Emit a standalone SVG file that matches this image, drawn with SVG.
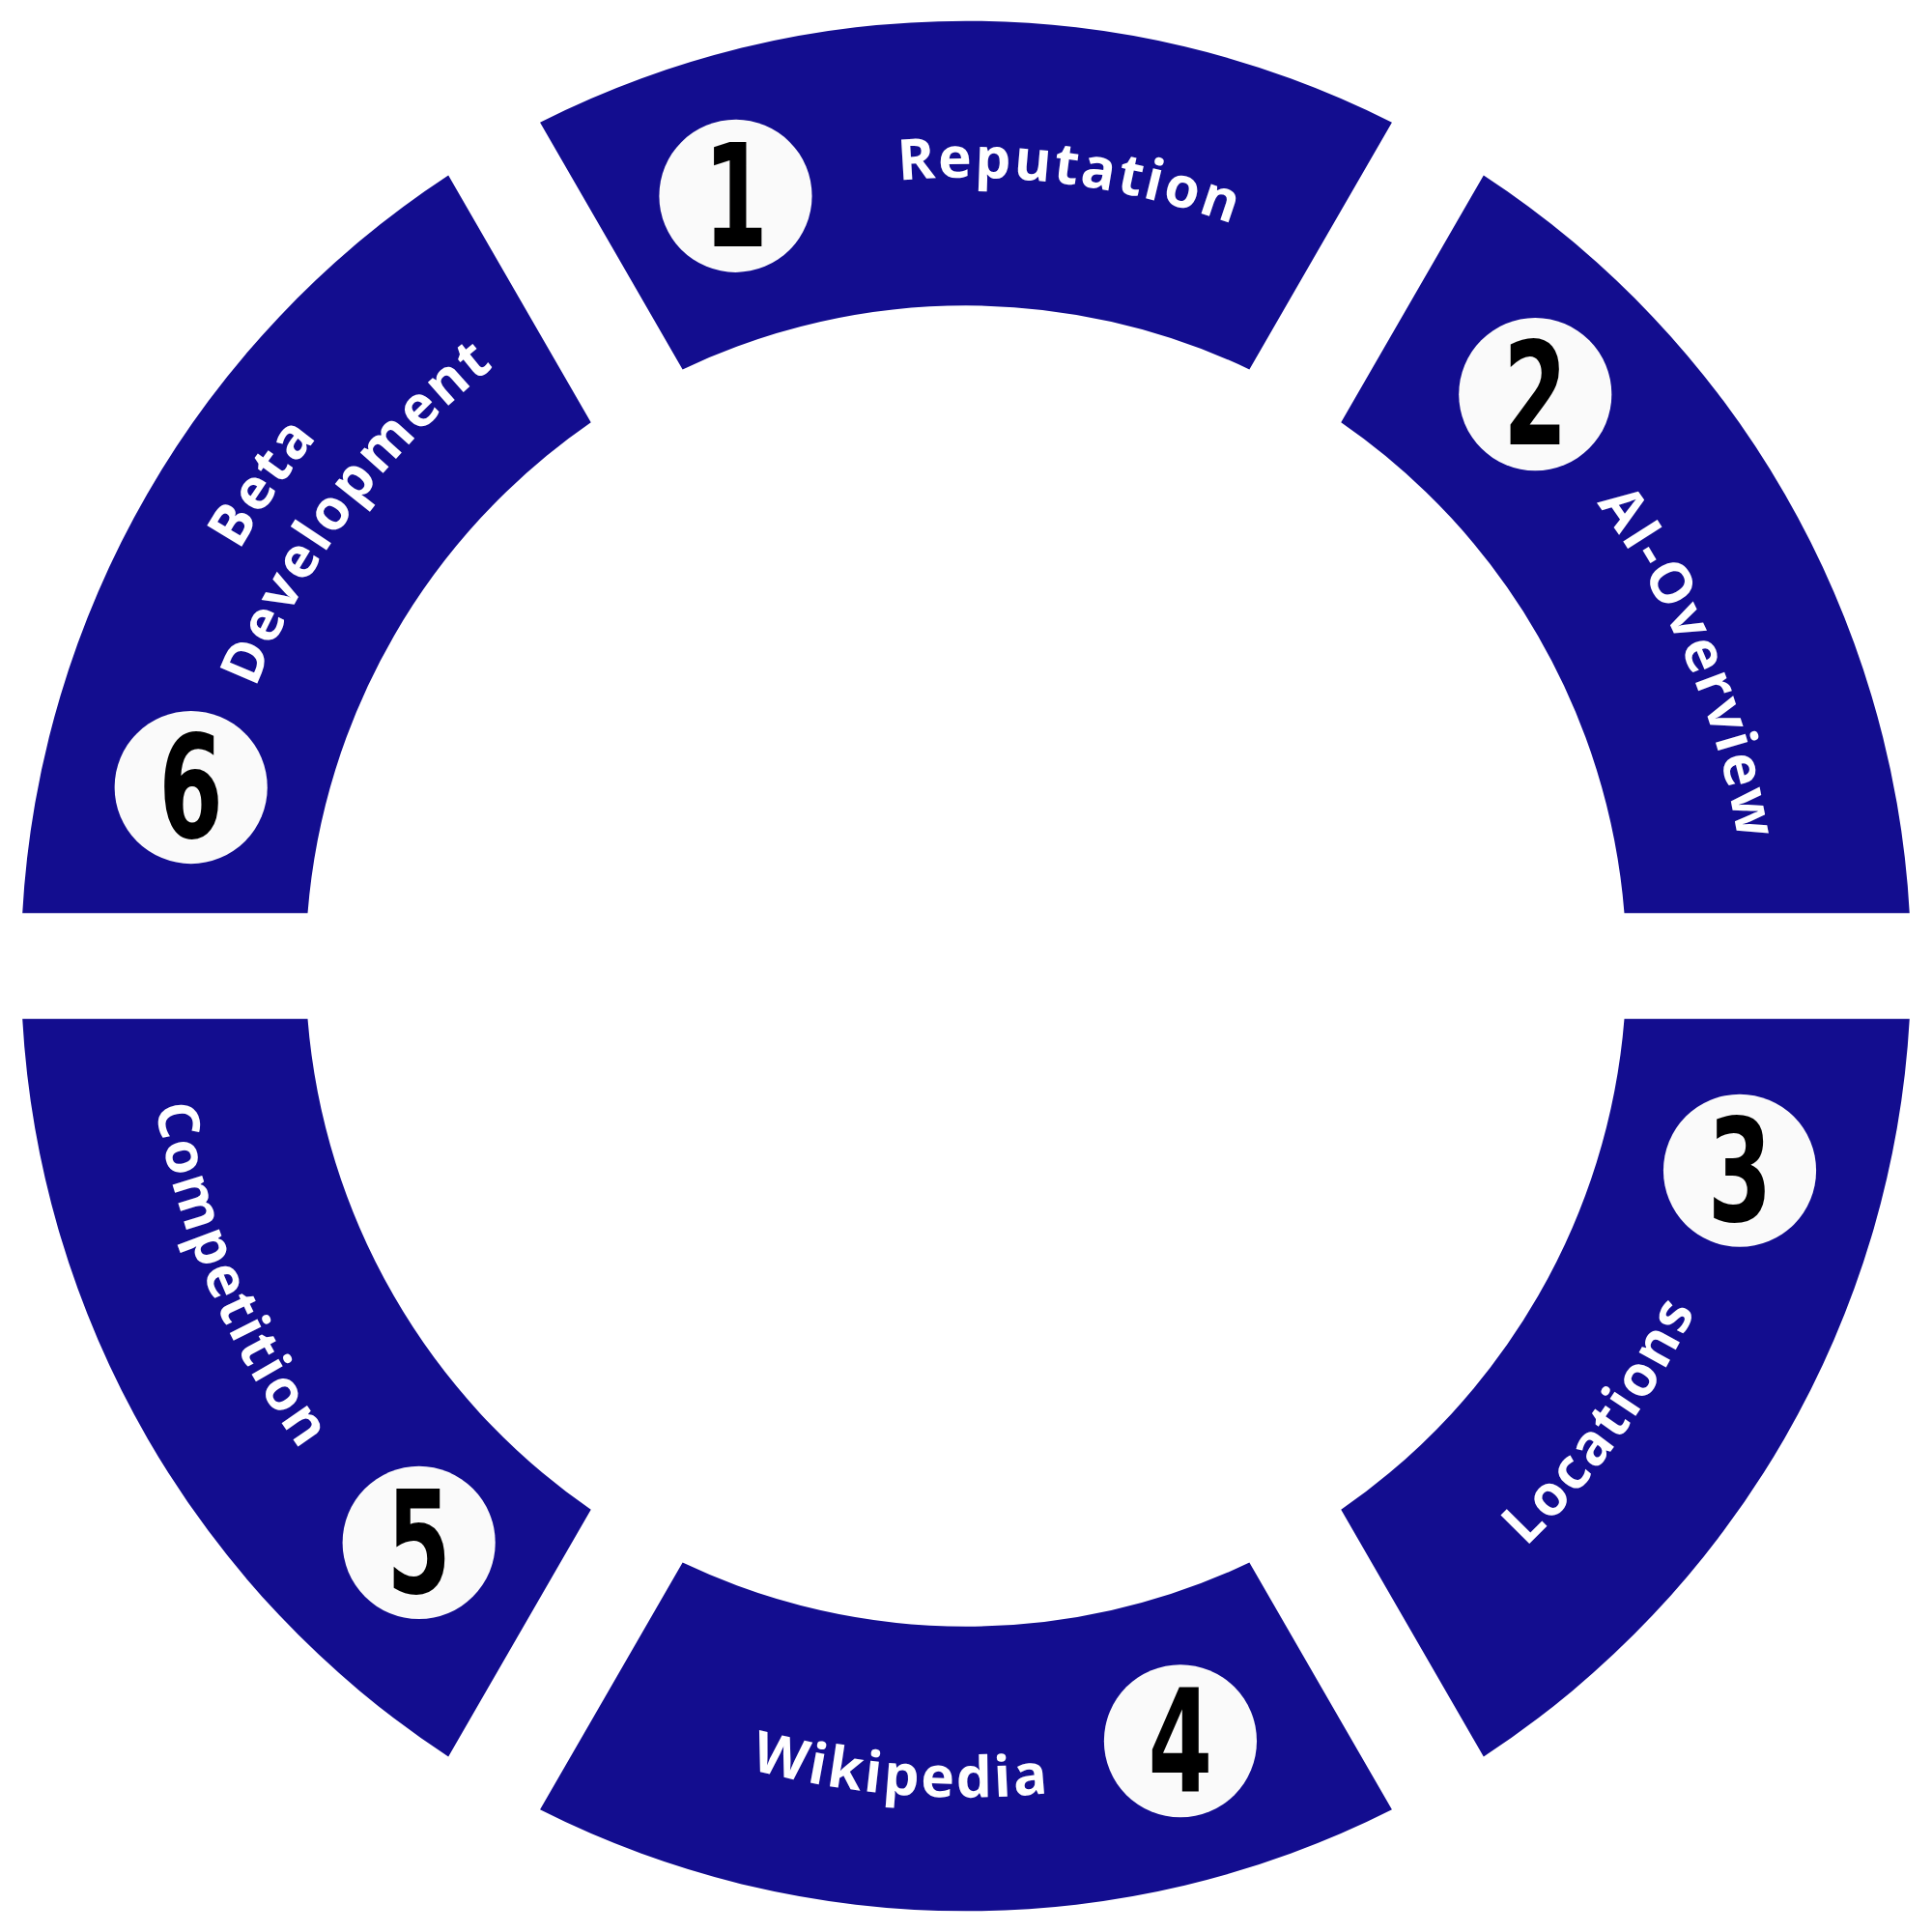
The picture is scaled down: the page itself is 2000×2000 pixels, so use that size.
<svg xmlns="http://www.w3.org/2000/svg" width="2000" height="2000" viewBox="0 0 2000 2000">
<style>
.seg{fill:#130D8F}
.badge{fill:#FAFAFA}
.num{font-family:"DejaVu Sans Condensed","DejaVu Sans",sans-serif;font-weight:bold;font-size:116px;fill:#000;text-anchor:middle}
.lbl{font-family:"Open Sans","Noto Sans",sans-serif;font-weight:bold;font-size:46px;fill:#fff;letter-spacing:2px}
</style>
<defs>
<path id="pRep" d="M216.3,488.5 A640,640 0 0 1 1408.8,645.8"/>
<path id="pAI" d="M754.2,149.7 A635,635 0 0 1 1214.5,1250.7"/>
<path id="pLoc" d="M607.8,1414.8 A655,655 0 0 0 1324.4,414"/>
<path id="pWiki" d="M133.3,963.6 A675,675 0 0 0 1397.6,1064.8"/>
<path id="pComp" d="M328.4,295.7 A668,668 0 0 0 818.7,1451.1"/>
<path id="pBeta" d="M230,1178 A680,680 0 0 1 954,126"/>
<path id="pDev" d="M266,1124 A620,620 0 0 1 961,190"/>
</defs>
<g transform="scale(1.2755)">
<g id="n1">
<path class="seg" d="M438.3,99.3 A767,767 0 0 1 1129.7,99.3 L1014,299.8 A536,536 0 0 0 554,299.8 Z"/>
<circle class="badge" cx="597" cy="159" r="62"/>
<text class="num" transform="translate(597,200) scale(0.72,1)">1</text>
<text class="lbl"><textPath href="#pRep" startOffset="50%" text-anchor="middle">Reputation</textPath></text>
</g>
<g id="n2">
<path class="seg" d="M1204.1,142.3 A767,767 0 0 1 1549.8,741 L1318.3,741 A536,536 0 0 0 1088.4,342.8 Z"/>
<circle class="badge" cx="1246" cy="320" r="62"/>
<text class="num" transform="translate(1246,361) scale(0.72,1)">2</text>
<text class="lbl"><textPath href="#pAI" startOffset="50%" text-anchor="middle">AI-Overview</textPath></text>
</g>
<g id="n3">
<path class="seg" d="M1549.8,827 A767,767 0 0 1 1204.1,1425.7 L1088.4,1225.2 A536,536 0 0 0 1318.3,827 Z"/>
<circle class="badge" cx="1412" cy="950" r="62"/>
<text class="num" transform="translate(1412,991) scale(0.72,1)">3</text>
<text class="lbl"><textPath href="#pLoc" startOffset="50%" text-anchor="middle">Locations</textPath></text>
</g>
<g id="n4">
<path class="seg" d="M1129.7,1468.7 A767,767 0 0 1 438.3,1468.7 L554,1268.2 A536,536 0 0 0 1014,1268.2 Z"/>
<circle class="badge" cx="958" cy="1413" r="62"/>
<text class="num" transform="translate(958,1454) scale(0.72,1)">4</text>
<text class="lbl"><textPath href="#pWiki" startOffset="50%" text-anchor="middle">Wikipedia</textPath></text>
</g>
<g id="n5">
<path class="seg" d="M363.9,1425.7 A767,767 0 0 1 18.2,827 L249.7,827 A536,536 0 0 0 479.6,1225.2 Z"/>
<circle class="badge" cx="340" cy="1252" r="62"/>
<text class="num" transform="translate(340,1293) scale(0.72,1)">5</text>
<text class="lbl"><textPath href="#pComp" startOffset="50%" text-anchor="middle">Competition</textPath></text>
</g>
<g id="n6">
<path class="seg" d="M18.2,741 A767,767 0 0 1 363.9,142.3 L479.6,342.8 A536,536 0 0 0 249.7,741 Z"/>
<circle class="badge" cx="155" cy="639" r="62"/>
<text class="num" transform="translate(155,680) scale(0.72,1)">6</text>
<text class="lbl"><textPath href="#pBeta" startOffset="50%" text-anchor="middle">Beta</textPath></text>
<text class="lbl"><textPath href="#pDev" startOffset="50%" text-anchor="middle">Development</textPath></text>
</g>
<g id="connectors"/>
</g>
</svg>
